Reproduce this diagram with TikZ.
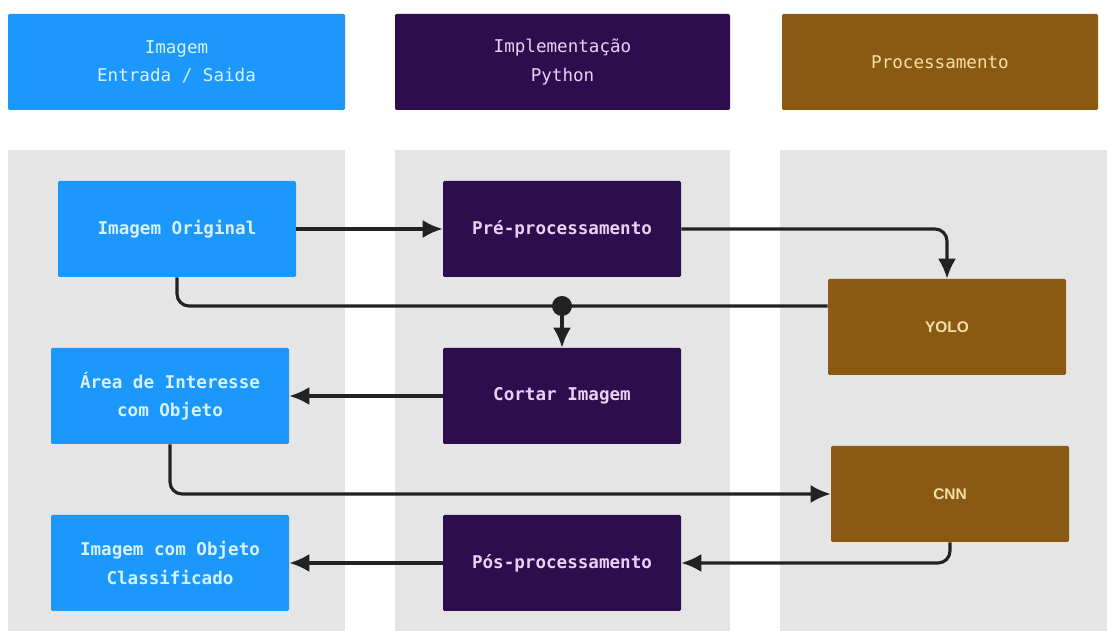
\documentclass[tikz,border=0pt]{standalone}
\usepackage{fontspec}
\setmonofont{DejaVu Sans Mono}
\setsansfont{Liberation Sans}
\usetikzlibrary{arrows.meta}

\definecolor{ioblue}{RGB}{28,152,252}
\definecolor{iotext}{RGB}{214,242,255}
\definecolor{pypurple}{RGB}{46,13,79}
\definecolor{pytext}{RGB}{234,208,242}
\definecolor{procbrown}{RGB}{138,90,19}
\definecolor{proctext}{RGB}{246,224,170}
\definecolor{lane}{RGB}{229,229,229}
\definecolor{wire}{RGB}{34,34,34}

\begin{document}
\begin{tikzpicture}[
  box/.style={rectangle, rounded corners=1pt, minimum width=5.95cm, minimum height=2.4cm,
    align=center, font=\fontsize{12.5}{20}\selectfont\ttfamily\bfseries},
  io/.style={box, fill=ioblue, text=iotext},
  py/.style={box, fill=pypurple, text=pytext},
  proc/.style={box, fill=procbrown, text=proctext, font=\fontsize{11}{14}\selectfont\sffamily\bfseries},
  head/.style={font=\fontsize{12.5}{20}\selectfont\ttfamily, minimum height=2.4cm},
  flow/.style={line width=2.2pt, draw=wire, rounded corners=0.3cm, -{Latex[length=5mm,width=4.5mm]}}
]
\useasboundingbox[fill=white] (0,0) rectangle (27.675,15.775);

% lanes
\fill[lane] (0.2,0) rectangle (8.625,12.025);
\fill[lane] (9.875,0) rectangle (18.25,12.025);
\fill[lane] (19.5,0) rectangle (27.675,12.025);

% lane headers
\node[io, head, minimum width=8.425cm] (hio) at (4.4125,14.225) {Imagem\\Entrada / Saida};
\node[py, head, minimum width=8.375cm] (hpy) at (14.0625,14.225) {Implementação\\Python};
\node[proc, head, minimum width=7.9cm] (hproc) at (23.5,14.225) {Processamento};

% steps
\node[io] (orig) at (4.425,10.05) {Imagem Original};
\node[py] (pre) at (14.05,10.05) {Pré-processamento};
\node[proc] (yolo) at (23.675,7.6) {YOLO};
\node[io] (roi) at (4.25,5.875) {Área de Interesse\\com Objeto};
\node[py] (crop) at (14.05,5.875) {Cortar Imagem};
\node[proc] (cnn) at (23.75,3.425) {CNN};
\node[io] (out) at (4.25,1.7) {Imagem com Objeto\\Classificado};
\node[py] (post) at (14.05,1.7) {Pós-processamento};

\coordinate (yin) at ([yshift=0.525cm]yolo.west);
\coordinate (tap) at (crop.north |- yin);

\draw[flow] (orig) -- (pre);
\draw[flow] (pre) -| (yolo);
\draw[flow, -] (orig) |- (yin);
\fill[wire] (tap) circle (0.25cm);
\draw[flow] (tap) -- (crop);
\draw[flow] (crop) -- (roi);
\draw[flow] (roi) |- (cnn);
\draw[flow] (cnn) |- (post);
\draw[flow] (post) -- (out);

\end{tikzpicture}
\end{document}
